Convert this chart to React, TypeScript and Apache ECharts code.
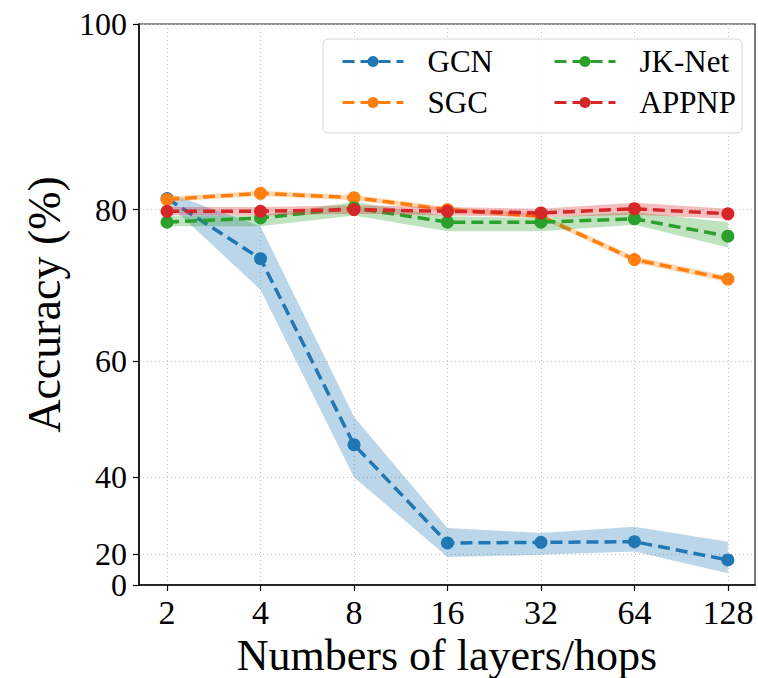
import React, { useEffect, useRef } from "react";
import * as echarts from "echarts";

const categories = ["2", "4", "8", "16", "32", "64", "128"];
const yTicks = [0, 20, 40, 60, 80, 100];

const gcnMean = [81.3, 74.0, 46.3, 23.7, 23.9, 24.1, 17.8];
const gcnLower = [80.8, 70.0, 40.0, 18.9, 19.7, 20.9, 11.7];
const gcnUpper = [82.0, 78.0, 51.2, 28.1, 26.7, 28.4, 24.1];

const sgcMean = [81.2, 81.9, 81.4, 80.0, 79.2, 73.9, 71.4];
const sgcLower = [80.9, 81.6, 81.1, 79.7, 78.9, 73.5, 71.0];
const sgcUpper = [81.5, 82.2, 81.7, 80.3, 79.5, 74.3, 71.8];

const jkMean = [78.5, 79.0, 80.2, 78.5, 78.5, 78.9, 76.8];
const jkLower = [78.0, 78.0, 79.3, 77.4, 77.4, 78.2, 75.4];
const jkUpper = [79.2, 79.3, 80.9, 79.2, 79.0, 79.7, 78.5];

const appMean = [79.8, 79.8, 80.0, 79.8, 79.6, 80.1, 79.5];
const appLower = [79.3, 79.3, 79.5, 79.3, 79.1, 79.4, 78.9];
const appUpper = [80.3, 80.3, 80.5, 80.3, 80.1, 80.8, 80.1];

const POW = 1.8;
const T = (v: number) => 100 * Math.pow(v / 100, POW);
const Tinv = (t: number) => 100 * Math.pow(Math.max(t, 0) / 100, 1 / POW);

const FONT = "Liberation Serif";

const models = [
  { name: "GCN", color: "#1f77b4", mean: gcnMean, lower: gcnLower, upper: gcnUpper },
  { name: "SGC", color: "#ff7f0e", mean: sgcMean, lower: sgcLower, upper: sgcUpper },
  { name: "JK-Net", color: "#2ca02c", mean: jkMean, lower: jkLower, upper: jkUpper },
  { name: "APPNP", color: "#d62728", mean: appMean, lower: appLower, upper: appUpper },
];

function hexToRgba(hex: string, a: number) {
  const n = parseInt(hex.slice(1), 16);
  return `rgba(${(n >> 16) & 255},${(n >> 8) & 255},${n & 255},${a})`;
}

export default function App() {
  const ref = useRef<HTMLDivElement>(null);
  useEffect(() => {
    if (!ref.current) return;
    const chart = echarts.init(ref.current, null, { renderer: "svg" });
    const idx = categories.map((_, i) => i);
    const series: any[] = [];
    models.forEach((m, k) => {
      const bandData = m.lower.map((v, i) => [i, T(v), T(m.upper[i])]);
      series.push({
        name: m.name + "_band",
        type: "custom",
        data: bandData,
        encode: { x: 0, y: [1, 2] },
        silent: true,
        z: 2 + k * 0.1,
        renderItem: (params: any, api: any) => {
          if (params.dataIndex !== 0) return null;
          const top: number[][] = [];
          const bot: number[][] = [];
          for (let i = 0; i < bandData.length; i++) {
            top.push(api.coord([bandData[i][0], bandData[i][2]]));
            bot.push(api.coord([bandData[i][0], bandData[i][1]]));
          }
          return {
            type: "polygon",
            shape: { points: top.concat(bot.reverse()) },
            style: { fill: hexToRgba(m.color, 0.3), stroke: "none" },
          };
        },
      });
      series.push({
        name: m.name,
        type: "line",
        data: m.mean.map((v, i) => [i, T(v)]),
        symbol: "circle",
        symbolSize: 13,
        color: m.color,
        itemStyle: { color: m.color },
        lineStyle: { color: m.color, width: 3.5, type: [12, 6] },
        z: 2.05 + k * 0.1,
      });
    });

    const legendCommon = {
      orient: "vertical",
      top: 41,
      itemWidth: 61,
      itemHeight: 14,
      itemGap: 10,
      lineStyle: { width: 3 },
      textStyle: { fontFamily: FONT, fontSize: 31, color: "#000", lineHeight: 30, padding: [0, 0, 0, 19] },
      z: 10,
    };

    const labelStyle = {
      fontFamily: FONT,
      fontSize: 32,
      lineHeight: 26,
      color: "#000",
      margin: 12,
      showMinLabel: true,
      showMaxLabel: true,
      hideOverlap: false,
      formatter: (v: number) => String(Math.round(Tinv(v))),
    };

    const option: any = {
      animation: false,
      backgroundColor: "#ffffff",
      textStyle: { fontFamily: FONT },
      grid: {
        left: 139,
        right: 3,
        top: 24,
        bottom: 93,
        show: true,
        borderColor: "#222",
        borderWidth: 1.2,
        containLabel: false,
        outerBoundsMode: "none",
      },
      xAxis: {
        type: "value",
        min: -0.3,
        max: 6.29,
        name: "Numbers of layers/hops",
        nameLocation: "middle",
        nameGap: 40,
        nameTextStyle: { fontFamily: FONT, fontSize: 44, lineHeight: 40, color: "#000" },
        axisLine: { show: true, onZero: false, lineStyle: { color: "#000", width: 1.5 } },
        axisTick: { show: true, customValues: idx, length: 6, lineStyle: { color: "#000", width: 1.2 } },
        axisLabel: {
          customValues: idx,
          formatter: (v: number) => categories[Math.round(v)] ?? "",
          fontFamily: FONT,
          fontSize: 34,
          color: "#000",
          margin: 10,
          showMinLabel: true,
          showMaxLabel: true,
          hideOverlap: false,
        },
        splitLine: { show: true, lineStyle: { color: "#c4c4c4", type: [1, 3], width: 1 } },
      },
      yAxis: [
        {
          type: "value",
          min: 0,
          max: 100,
          name: "Accuracy (%)",
          nameLocation: "middle",
          nameGap: 72,
          nameTextStyle: { fontFamily: FONT, fontSize: 46, color: "#000" },
          axisLine: { show: true, onZero: false, lineStyle: { color: "#000", width: 1.5 } },
          axisTick: { show: true, customValues: yTicks.map(T), length: 6, lineStyle: { color: "#000", width: 1.2 } },
          axisLabel: { ...labelStyle, customValues: yTicks.filter((t) => t !== 20).map(T) },
          splitLine: { show: true, lineStyle: { color: "#c4c4c4", type: [1, 3], width: 1 } },
        },
        {
          type: "value",
          min: 0,
          max: 100,
          position: "left",
          offset: 0,
          axisLine: { show: false },
          axisTick: { show: false },
          splitLine: { show: false },
          axisLabel: { ...labelStyle, customValues: [T(20)] },
        },
      ],
      legend: [
        { ...legendCommon, data: ["GCN", "SGC"], left: 336 },
        { ...legendCommon, data: ["JK-Net", "APPNP"], left: 548 },
      ],
      graphic: [
        {
          type: "rect",
          z: 8,
          shape: { x: 323, y: 39, width: 419, height: 94, r: 5 },
          style: { fill: "rgba(255,255,255,0.85)", stroke: "#d6d6d6", lineWidth: 1 },
          silent: true,
        },
      ],
      series,
    };
    chart.setOption(option);
    return () => chart.dispose();
  }, []);
  return (
    <div
      ref={ref}
      style={{ position: "fixed", left: 0, top: 0, width: 758, height: 678, background: "#fff" }}
    />
  );
}
